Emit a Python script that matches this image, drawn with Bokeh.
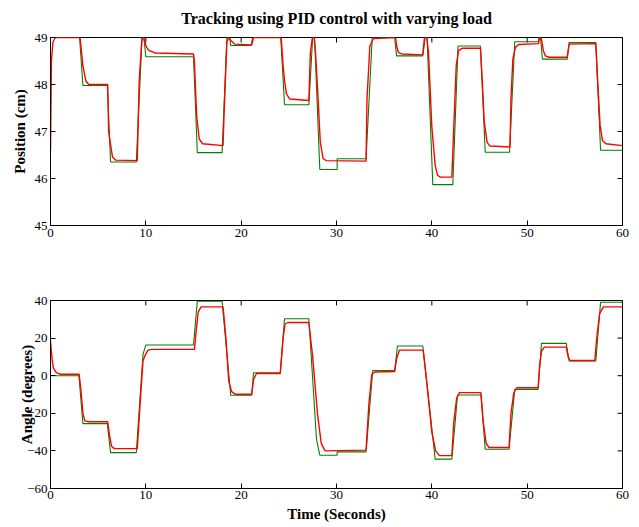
import math
from bokeh.plotting import figure
from bokeh.layouts import column
from bokeh.models import Range1d, FixedTicker
from bokeh.embed import file_html
from bokeh.resources import INLINE

# ---------------- data ----------------
pos_ref_t = [0, 3.05, 3.4, 5.96, 6.3, 9.0, 9.6, 9.8, 10.0, 15.0, 15.4, 18.0, 18.5, 18.8, 18.9,
             21.05, 21.2, 24.15, 24.55, 27.1, 27.5, 27.7, 28.25, 30.07, 30.07, 33.1, 33.75,
             36.1, 36.3, 39.05, 39.3, 39.5, 40.1, 42.2, 42.75, 45.1, 45.6, 48.15, 48.7, 51.15,
             51.25, 51.4, 51.6, 54.2, 54.4, 57.2, 57.7, 60]
pos_ref = [49, 49, 47.98, 47.98, 46.35, 46.35, 49, 49, 48.59, 48.59, 46.55, 46.55, 49, 49, 48.83,
           48.83, 49, 49, 47.57, 47.57, 49, 49, 46.19, 46.19, 46.42, 46.42, 49,
           49, 48.61, 48.61, 49, 49, 45.87, 45.87, 48.82, 48.82, 46.56, 46.56, 48.91, 48.91,
           49, 49, 48.54, 48.54, 48.89, 48.89, 46.6, 46.6]

pos_meas_t = [0, 0.1, 0.25, 0.5, 3.1, 3.4, 3.7, 4.0, 6.0, 6.1, 6.5, 6.85, 9.1, 9.3, 9.58, 9.75,
              9.9, 10.07, 10.35, 11.0, 15.0, 15.1, 15.33, 15.6, 15.96, 18.1, 18.2, 18.5, 18.7,
              18.95, 19.3, 21.1, 21.3, 24.2, 24.4, 24.55, 24.75, 25.1, 27.1, 27.26, 27.47, 27.65,
              27.8, 28.07, 28.3, 28.6, 28.95, 33.1, 33.2, 33.5, 33.86, 36.2, 36.3, 36.5, 36.84,
              39.05, 39.23, 39.47, 39.65, 40.0, 40.35, 40.6, 40.9, 42.1, 42.28, 42.56, 42.8,
              43.16, 45.1, 45.26, 45.5, 45.8, 46.1, 48.2, 48.3, 48.5, 48.77, 49.1, 51.2, 51.3,
              51.47, 51.7, 51.9, 52.3, 54.2, 54.4, 57.2, 57.4, 57.65, 57.9, 58.25, 60]
pos_meas = [46.6, 48.5, 48.9, 49, 49, 48.4, 48.08, 48.0, 48.0, 46.99, 46.46, 46.39, 46.38, 48.05,
            48.96, 49, 48.9, 48.79, 48.72, 48.67, 48.65, 48.47, 47.34, 46.84, 46.74, 46.70,
            47.34, 48.9, 49, 48.93, 48.86, 48.84, 49, 49, 48.4, 48.08, 47.8, 47.69, 47.66, 48.68,
            49, 49, 48.68, 47.7, 46.77, 46.42, 46.38, 46.37, 47.69, 48.82, 48.98, 49, 48.82,
            48.68, 48.65, 48.63, 49, 49, 48.68, 47.1, 46.28, 46.07, 46.03, 46.03, 46.99, 48.4,
            48.72, 48.77, 48.77, 48.19, 47.2, 46.77, 46.69, 46.67, 47.69, 48.54, 48.79, 48.85,
            48.87, 49, 49, 48.72, 48.61, 48.58, 48.58, 48.86, 48.87, 48.05, 47.13, 46.81, 46.74,
            46.70]

ang_ref_t = [0, 2.98, 3.4, 5.96, 6.3, 9.0, 9.7, 10.0, 15.0, 15.4, 18.0, 18.9, 21.1, 21.3, 24.1,
             24.55, 27.1, 27.9, 28.25, 30.07, 30.07, 33.1, 33.8, 36.1, 36.4, 39.05, 40.35, 42.1,
             42.7, 45.15, 45.6, 48.1, 48.7, 51.15, 51.5, 54.1, 54.4, 57.2, 57.7, 60]
ang_ref = [0, 0, -25.5, -25.5, -40.9, -40.9, 11.3, 16.3, 16.3, 39.6, 39.6, -10.4, -10.4, 1.6, 1.6,
           30.3, 30.3, -33.8, -42.3, -42.3, -40.5, -40.5, 2.8, 2.8, 15.8, 15.8, -44.4, -44.4,
           -10.3, -10.3, -39.1, -39.1, -7.3, -7.3, 17.2, 17.2, 7.8, 7.8, 39.1, 39.1]

ang_meas_t = [0, 0.15, 0.3, 0.6, 1.0, 3.0, 3.2, 3.4, 3.6, 4.0, 6.0, 6.2, 6.4, 6.7, 9.1, 9.4, 9.7,
              9.85, 10.2, 10.6, 15.1, 15.3, 15.5, 15.8, 18.1, 18.4, 18.7, 19.0, 19.4, 21.1, 21.3,
              21.6, 24.1, 24.4, 24.6, 24.9, 27.1, 27.5, 28.0, 28.4, 28.8, 33.1, 33.4, 33.7, 34.0,
              36.1, 36.3, 36.6, 39.1, 39.5, 40.0, 40.4, 40.8, 42.1, 42.3, 42.6, 42.9, 45.15, 45.4,
              45.7, 46.0, 48.1, 48.3, 48.6, 48.9, 51.15, 51.3, 51.5, 51.8, 54.1, 54.3, 54.5, 57.1,
              57.3, 57.6, 58.0, 60]
ang_meas = [18.4, 9.6, 4.2, 1.6, 0.8, 0.8, -8, -20, -24, -24.5, -24.5, -32, -37.5, -38.8, -38.8,
            -15, 7.8, 10, 13.5, 14.0, 14.0, 25, 34, 36.6, 36.6, 20, -3, -8.5, -9.9, -9.9, -2, 1.2,
            1.2, 20, 27.5, 28.3, 28.3, 10, -20, -36, -40, -39.6, -15, 0.5, 2.0, 2.2, 9, 13.6,
            13.6, -5, -30, -40, -42.5, -42.5, -25, -12, -9.0, -9.0, -25, -36, -38.2, -38.2, -20,
            -9, -6.4, -6.4, 5, 13, 15.2, 15.2, 10, 8.1, 8.1, 20, 33, 36.6, 36.6]

x_range = (0, 60)
pos_range = (45, 49)
ang_range = (-60, 40)
x_ticks = [0, 10, 20, 30, 40, 50, 60]
pos_ticks = [45, 46, 47, 48, 49]
ang_ticks = [-60, -40, -20, 0, 20, 40]

title_text = "Tracking using PID control with varying load"
pos_label = "Position (cm)"
ang_label = "Angle (degrees)"
x_label = "Time (Seconds)"

GREEN = "#008000"
RED = "#ff0000"
SERIF = "Liberation Serif"


def tick_text(v):
    s = str(int(v))
    return s.replace("-", "\u2212")


def style_axis(ax, ticks):
    ax.ticker = FixedTicker(ticks=ticks)
    ax.major_label_overrides = {t: tick_text(t) for t in ticks}
    ax.major_tick_in = 5
    ax.major_tick_out = 0
    ax.minor_tick_line_color = None
    ax.axis_line_color = "black"
    ax.major_tick_line_color = "black"
    ax.major_label_text_font = SERIF
    ax.major_label_text_color = "black"
    ax.major_label_text_font_size = "13px"
    ax.major_label_standoff = 3
    ax.axis_label_text_font = SERIF
    ax.axis_label_text_font_style = "bold"
    ax.axis_label_text_font_size = "15px"
    ax.axis_label_text_color = "black"


def make_fig(height, top, bottom, yr, yticks, ylabel, ylabel_standoff,
             xlabel=None, title=None):
    p = figure(width=631, height=height, output_backend="svg", toolbar_location=None,
               x_range=Range1d(*x_range), y_range=Range1d(*yr),
               min_border_left=50, min_border_right=9, min_border_top=top,
               min_border_bottom=bottom, title=title)
    p.xgrid.visible = False
    p.ygrid.visible = False
    p.outline_line_color = "black"
    p.outline_line_alpha = 1
    p.background_fill_color = "white"
    p.border_fill_color = "white"
    style_axis(p.xaxis[0], x_ticks)
    style_axis(p.yaxis[0], yticks)
    p.yaxis[0].axis_label = ylabel
    p.yaxis[0].axis_label_standoff = ylabel_standoff
    if xlabel:
        p.xaxis[0].axis_label = xlabel
        p.xaxis[0].major_label_standoff = 2
        p.xaxis[0].axis_label_standoff = 4
    # mirrored inward ticks on the top and right edges (clipped to the frame)
    p.scatter(x=x_ticks, y=[yr[1]] * len(x_ticks), marker="dash", size=10,
              angle=math.pi / 2, line_color="black", line_width=1)
    p.scatter(x=[x_range[1]] * len(yticks), y=yticks, marker="dash", size=10,
              line_color="black", line_width=1)
    if title is not None:
        p.title.text_font = SERIF
        p.title.text_font_style = "bold"
        p.title.text_font_size = "16px"
        p.title.align = "center"
        p.title.vertical_align = "top"
        p.title.text_color = "black"
        p.title.standoff = 17
    return p


p1 = make_fig(262, 37, 37, pos_range, pos_ticks, pos_label, 4, title=title_text)
p1.line(pos_ref_t, pos_ref, line_color=GREEN, line_width=1.1)
p1.line(pos_meas_t, pos_meas, line_color=RED, line_width=1.4)

p2 = make_fig(264, 38, 38, ang_range, ang_ticks, ang_label, -11, xlabel=x_label)
p2.line(ang_ref_t, ang_ref, line_color=GREEN, line_width=1.1)
p2.line(ang_meas_t, ang_meas, line_color=RED, line_width=1.4)

layout = column(p1, p2, spacing=0)
open("out.html", "w").write(file_html(layout, INLINE))
